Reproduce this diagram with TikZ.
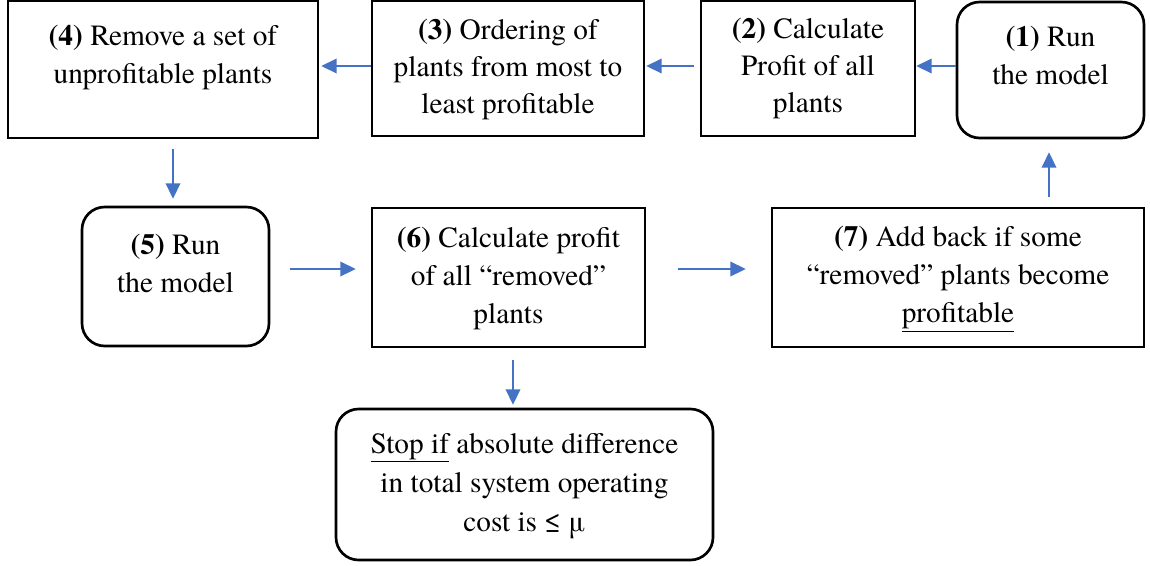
\documentclass[tikz,border=0pt]{standalone}
\usepackage{fontspec}
\setmainfont{TeX Gyre Termes}
\usetikzlibrary{arrows.meta}
\definecolor{arrowblue}{HTML}{4472C4}
\newcommand{\boxlines}[1]{\begin{tabular}[t]{@{}c@{}}#1\end{tabular}}
\begin{document}
\begin{tikzpicture}[x=0.75pt,y=-0.75pt,
  sq/.style={draw=black, line width=2pt, rectangle, inner sep=0pt},
  rnd/.style={sq, rounded corners=17pt},
  txt/.style={anchor=base, inner sep=0pt, font=\fontsize{22}{28.5}\selectfont},
  toprow/.style={font=\fontsize{22}{28}\selectfont},
  arr/.style={draw=arrowblue, line width=1.1pt, -{Triangle[length=11.5pt,width=11pt]}}]
\useasboundingbox (0,0) rectangle (1150,565);

% boxes
\node[sq,  minimum width=232.5pt, minimum height=102.75pt] (n4) at (163,69.5) {};
\node[sq,  minimum width=204pt,   minimum height=101.25pt] (n3) at (508,68.5) {};
\node[sq,  minimum width=160.5pt, minimum height=101.25pt] (n2) at (808,68.5) {};
\node[rnd, minimum width=140.25pt,minimum height=102pt]    (n1) at (1050.5,70) {};
\node[rnd, minimum width=140.25pt,minimum height=104.25pt] (n5) at (175.5,276.5) {};
\node[sq,  minimum width=204.75pt,minimum height=104.25pt] (n6) at (508.5,277.5) {};
\node[sq,  minimum width=279pt,   minimum height=104.25pt] (n7) at (958,277.5) {};
\node[rnd, minimum width=282.75pt,minimum height=113.25pt] (stop) at (524.5,484.5) {};

% texts
\node[txt,toprow] (t4) at (163,45.7) {\boxlines{\textbf{(4)} Remove a set of\\ unprofitable plants}};
\node[txt,toprow] (t3) at (508,39.3) {\boxlines{\textbf{(3)} Ordering of\\ plants from most to\\ least profitable}};
\node[txt,toprow] (t2) at (808,38.3) {\boxlines{\textbf{(2)} Calculate\\ Profit of all\\ plants}};
\node[txt,toprow] (t1) at (1050.5,46.7) {\boxlines{\textbf{(1)} Run\\ the model}};
\node[txt] (t5) at (175.5,254) {\boxlines{\textbf{(5)} Run\\ the model}};
\node[txt] (t6) at (508.5,247.3) {\boxlines{\textbf{(6)} Calculate profit\\ of all “removed”\\ plants}};
\node[txt] (t7) at (958,246.7) {\boxlines{\textbf{(7)} Add back if some\\ “removed” plants become\\ \underline{profitable}}};
\node[txt,font=\fontsize{22}{29.5}\selectfont] (tstop) at (524.5,453.3) {\boxlines{\underline{Stop if} absolute difference\\ in total system operating\\ cost is ≤ μ}};

% connectors
\draw[arr] (n1.west |- 0,66) -- (n2.east |- 0,66);
\draw[arr, shorten <=4.5pt, shorten >=0.75pt] (n2.west |- 0,66) -- (n3.east |- 0,66);
\draw[arr, shorten >=1.5pt] (n3.west |- 0,66) -- (n4.east |- 0,66);
\draw[arr, shorten <=7.5pt, shorten >=5.25pt] (n4.south -| 173,0) -- (n5.north -| 173,0);
\draw[arr, shorten <=15pt, shorten >=11.25pt] (n5.east |- 0,269) -- (n6.west |- 0,269);
\draw[arr, shorten <=24pt, shorten >=18.75pt] (n6.east |- 0,269) -- (n7.west |- 0,269);
\draw[arr, shorten <=7.5pt, shorten >=9.75pt] (n7.north -| 1049,0) -- (n1.south -| 1049,0);
\draw[arr, shorten <=9pt, shorten >=2.25pt] (n6.south -| 513,0) -- (stop.north -| 513,0);
\end{tikzpicture}
\end{document}
